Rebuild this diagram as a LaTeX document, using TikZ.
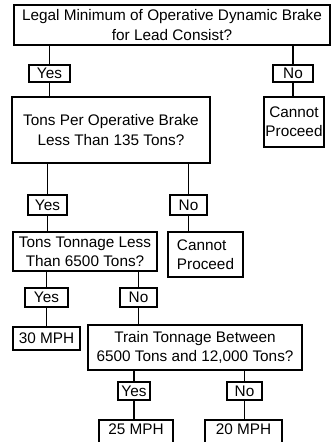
\documentclass[tikz,border=0pt]{standalone}
\usepackage{fontspec}
\setmainfont{Liberation Sans}
\usepackage{tikz}
\usetikzlibrary{positioning,calc}
\tikzset{
  brkquestion/.style={draw=black,line width=1pt,align=center,inner sep=1pt,font=\fontsize{11.5}{14.5}\selectfont},
  brkanswer/.style={draw=black,line width=1pt,align=center,inner sep=0.5pt,font=\fontsize{11.5}{14.5}\selectfont},
  brkresult/.style={draw=black,line width=1pt,align=center,inner sep=1pt,font=\fontsize{11.5}{14.5}\selectfont},
  brklink/.style={line width=1pt,draw=black}
}
\begin{document}
\begin{tikzpicture}[x=0.75pt,y=-0.75pt]
  \useasboundingbox (0,0) rectangle (335,442);
  % first question
  \node[brkquestion,minimum width=237pt,minimum height=30pt] (legal) at (172,25) {Legal Minimum of Operative Dynamic Brake\\for Lead Consist?};
  \node[brkanswer,minimum width=30.75pt,minimum height=12.75pt] (yesA) at (49.5,73.5) {Yes};
  \node[brkanswer,minimum width=30pt,minimum height=12.75pt] (noA) at (293,73.5) {No};
  \node[brkquestion,minimum width=148.5pt,minimum height=49.5pt] (perbrake) at (111,130) {Tons Per Operative Brake\\Less Than 135 Tons?};
  \node[brkresult,minimum width=43.5pt,minimum height=37.5pt] (stopA) at (294,122) {Cannot\\Proceed};
  % second question
  \node[brkanswer,minimum width=29.25pt,minimum height=15pt] (yesB) at (47.5,205) {Yes};
  \node[brkanswer,minimum width=27.75pt,minimum height=15pt] (noB) at (188.5,205) {No};
  \node[brkquestion,minimum width=108pt,minimum height=29.25pt] (tonnage) at (85,251.5) {Tons Tonnage Less\\Than 6500 Tons?};
  \node[brkresult,align=left,minimum width=56.25pt,minimum height=33.75pt] (stopB) at (205.5,254.5) {Cannot\\Proceed};
  % third question
  \node[brkanswer,minimum width=32.25pt,minimum height=14.25pt] (yesC) at (46.5,297.5) {Yes};
  \node[brkanswer,minimum width=27.75pt,minimum height=14.25pt] (noC) at (138.5,297.5) {No};
  \node[brkresult,minimum width=50.25pt,minimum height=17.25pt] (mphA) at (46.5,338.5) {30 MPH};
  \node[brkquestion,minimum width=160.5pt,minimum height=33.75pt] (between) at (195,347.5) {Train Tonnage Between\\6500 Tons and 12,000 Tons?};
  % last question
  \node[brkanswer,minimum width=24pt,minimum height=13.5pt] (yesD) at (134,391) {Yes};
  \node[brkanswer,minimum width=26.25pt,minimum height=13.5pt] (noD) at (244.5,391) {No};
  \node[brkresult,text depth=6pt,minimum width=55.5pt,minimum height=19.5pt] (mphB) at (136,433) {25 MPH};
  \node[brkresult,text depth=6pt,minimum width=57.75pt,minimum height=19.5pt] (mphC) at (243.5,433) {20 MPH};

  \draw[brklink] (yesA.north) -- (yesA.north |- legal.south);
  \draw[brklink] (noA.north) -- (noA.north |- legal.south);
  \draw[brklink] (yesA.south) -- (yesA.south |- perbrake.north);
  \draw[brklink] (noA.south) -- (noA.south |- stopA.north);
  \draw[brklink] (yesB.north) -- (yesB.north |- perbrake.south);
  \draw[brklink] (noB.north) -- (noB.north |- perbrake.south);
  \draw[brklink] (yesB.south) -- (yesB.south |- tonnage.north);
  \draw[brklink] (noB.south) -- (noB.south |- stopB.north);
  \draw[brklink] (yesC.north) -- (yesC.north |- tonnage.south);
  \draw[brklink] (noC.north) -- (noC.north |- tonnage.south);
  \draw[brklink] (yesC.south) -- (yesC.south |- mphA.north);
  \draw[brklink] (noC.south) -- (noC.south |- between.north);
  \draw[brklink] (yesD.north) -- (yesD.north |- between.south);
  \draw[brklink] (noD.north) -- (noD.north |- between.south);
  \draw[brklink] (yesD.south) -- (yesD.south |- mphB.north);
  \draw[brklink] (noD.south) -- (noD.south |- mphC.north);
\end{tikzpicture}
\end{document}
